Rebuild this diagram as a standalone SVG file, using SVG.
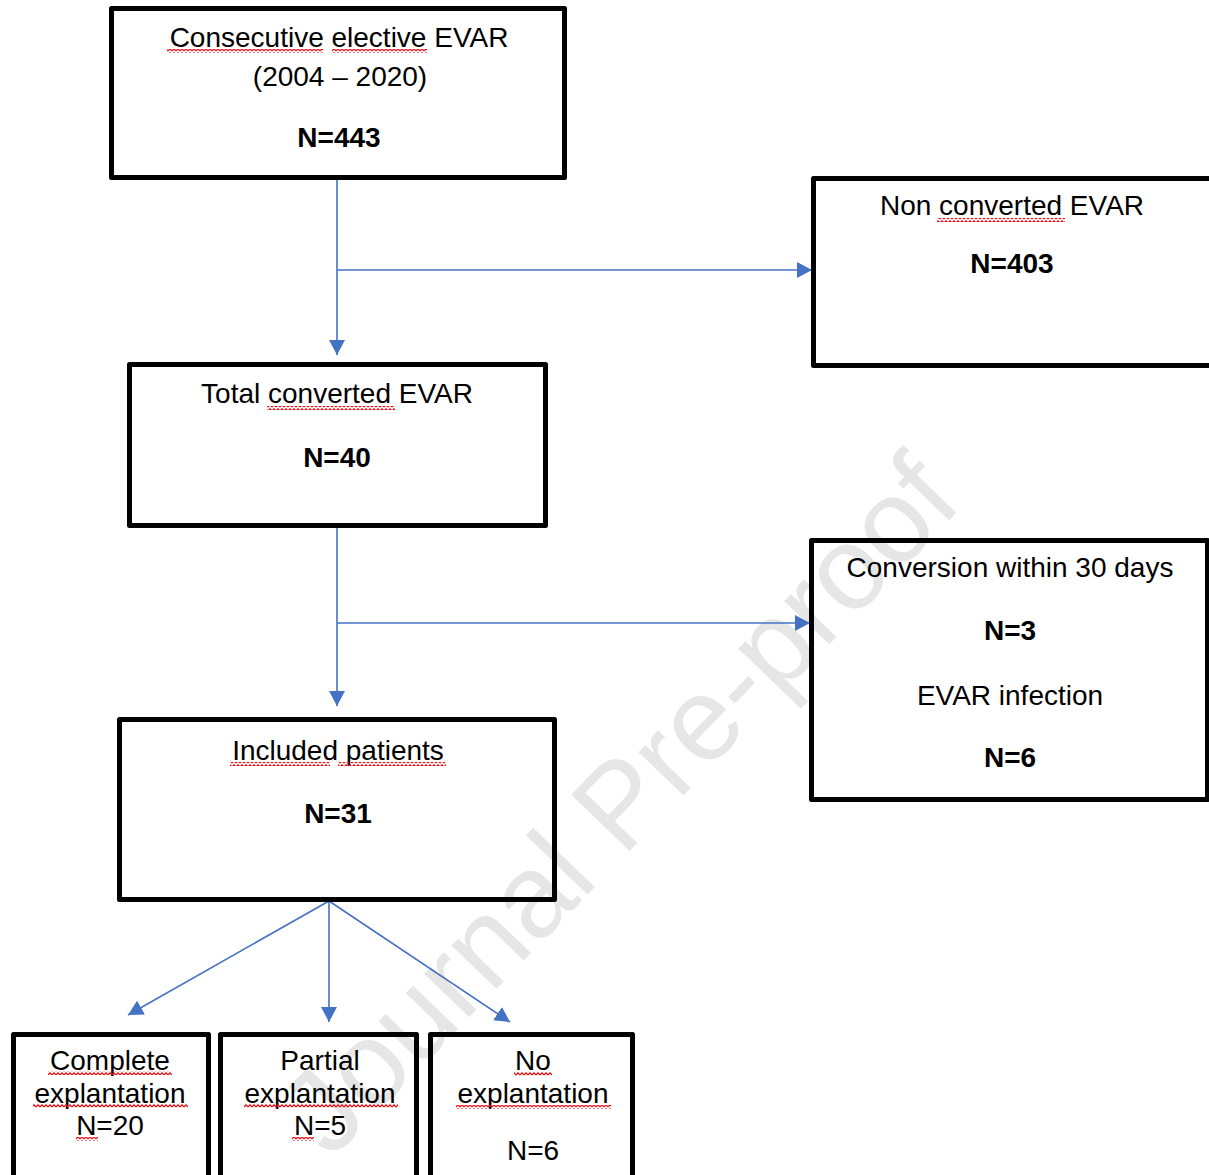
<svg xmlns="http://www.w3.org/2000/svg" width="1209" height="1175" viewBox="0 0 1209 1175">
<style>
.box{fill:none;stroke:#000;stroke-width:5;stroke-linejoin:round}
.t{font-family:"Liberation Sans",Arial,Helvetica,sans-serif;font-size:28px;fill:#000;text-anchor:middle}
.b{font-weight:bold}
.c{fill:none;stroke:#4472C4;stroke-width:1.6;marker-end:url(#ah)}
.wm{font-family:"Liberation Sans",Arial,Helvetica,sans-serif;font-size:118px;fill:#e6e6e6;text-anchor:middle}
.sq{fill:url(#squig)}
</style>
<defs>
<marker id="ah" viewBox="0 0 15 16" refX="15" refY="8" markerWidth="15" markerHeight="16" markerUnits="userSpaceOnUse" orient="auto">
<path d="M0,0 L15,8 L0,16 z" fill="#4472C4"/>
</marker>
<pattern id="squig" patternUnits="userSpaceOnUse" width="4" height="4">
<path d="M0,3 L2,0.8 L4,3" fill="none" stroke="#e8141a" stroke-width="1.2"/>
</pattern>
</defs>
<rect width="1209" height="1175" fill="#fff"/>
<text class="wm" x="648" y="832" transform="rotate(-46 648 832)">Journal Pre-proof</text>
<g id="connectors">
<path class="c" d="M337,180 V355"/>
<path class="c" d="M337,270 H812"/>
<path class="c" d="M337,528 V706"/>
<path class="c" d="M337,623 H810"/>
<path class="c" d="M329,901 L128,1015"/>
<path class="c" d="M329,901 V1022"/>
<path class="c" d="M329,901 L510,1022"/>
</g>
<g id="n1">
<rect class="box" x="111.5" y="8.5" width="453" height="169"/>
<text class="t" x="339" y="47">Consecutive elective EVAR</text>
<text class="t" x="340" y="86">(2004 – 2020)</text>
<text class="t b" x="339" y="147">N=443</text>
<rect class="sq" x="167" y="49" width="156" height="4"/>
<rect class="sq" x="332" y="49" width="95" height="4"/>
</g>
<g id="n2">
<rect class="box" x="813.5" y="178.5" width="400" height="187"/>
<text class="t" x="1012" y="215">Non converted EVAR</text>
<text class="t b" x="1012" y="273">N=403</text>
<rect class="sq" x="937" y="218" width="128" height="4"/>
</g>
<g id="n3">
<rect class="box" x="129.5" y="364.5" width="416" height="161"/>
<text class="t" x="337" y="403">Total converted EVAR</text>
<text class="t b" x="337" y="467">N=40</text>
<rect class="sq" x="267" y="406" width="128" height="4"/>
</g>
<g id="n4">
<rect class="box" x="811.5" y="540.5" width="396" height="259"/>
<text class="t" x="1010" y="577">Conversion within 30 days</text>
<text class="t b" x="1010" y="640">N=3</text>
<text class="t" x="1010" y="705">EVAR infection</text>
<text class="t b" x="1010" y="767">N=6</text>
</g>
<g id="n5">
<rect class="box" x="119.5" y="719.5" width="435" height="180"/>
<text class="t" x="338" y="760">Included patients</text>
<text class="t b" x="338" y="823">N=31</text>
<rect class="sq" x="230" y="762" width="100" height="4"/>
<rect class="sq" x="338" y="762" width="108" height="4"/>
</g>
<g id="n6">
<rect class="box" x="13.5" y="1034.5" width="195" height="160"/>
<text class="t" x="110" y="1070">Complete</text>
<text class="t" x="110" y="1103">explantation</text>
<text class="t" x="110" y="1135">N=20</text>
<rect class="sq" x="48" y="1071" width="124" height="4"/>
<rect class="sq" x="33" y="1104" width="155" height="4"/>
<rect class="sq" x="76" y="1137" width="22" height="4"/>
</g>
<g id="n7">
<rect class="box" x="220.5" y="1034.5" width="196" height="160"/>
<text class="t" x="320" y="1070">Partial</text>
<text class="t" x="320" y="1103">explantation</text>
<text class="t" x="320" y="1135">N=5</text>
<rect class="sq" x="244" y="1104" width="154" height="4"/>
<rect class="sq" x="292" y="1137" width="22" height="4"/>
</g>
<g id="n8">
<rect class="box" x="430.5" y="1034.5" width="202" height="160"/>
<text class="t" x="533" y="1070">No</text>
<text class="t" x="533" y="1103">explantation</text>
<text class="t" x="533" y="1160">N=6</text>
<rect class="sq" x="514" y="1072" width="38" height="4"/>
<rect class="sq" x="456" y="1105" width="155" height="4"/>
</g>
</svg>
